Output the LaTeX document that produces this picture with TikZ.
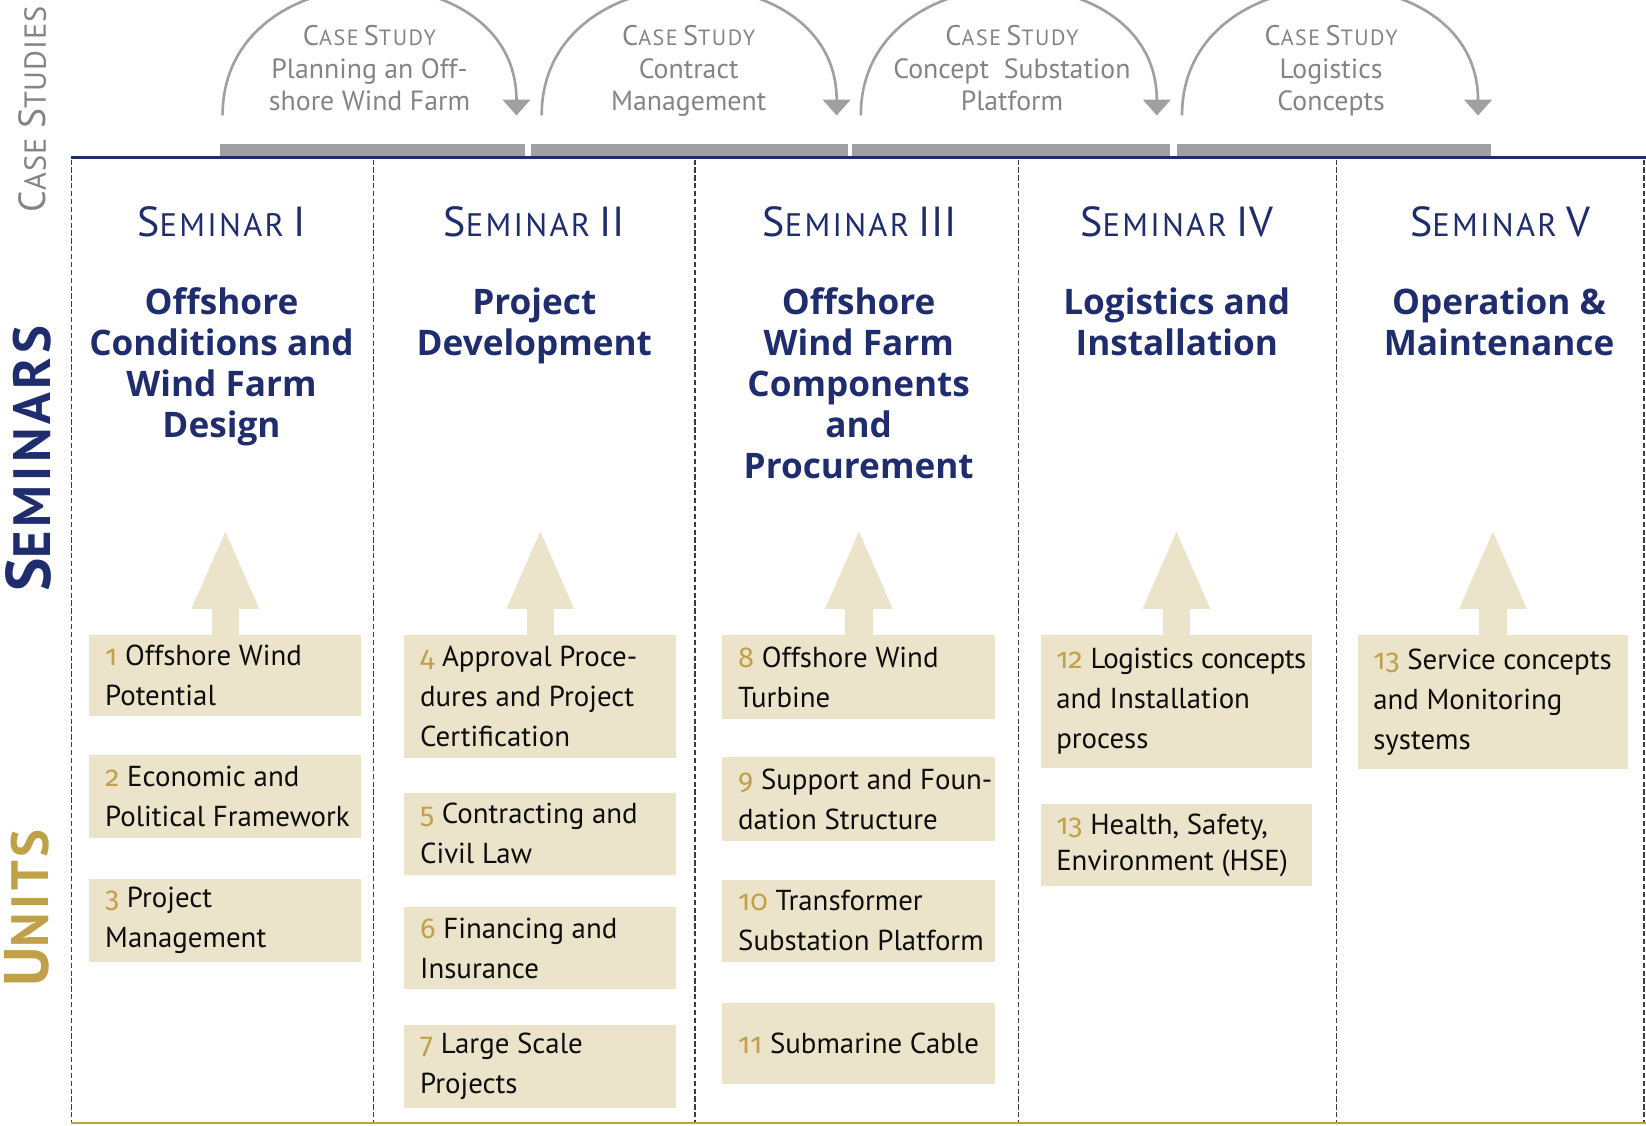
\documentclass[tikz,border=0pt]{standalone}
\usepackage{fontspec}
\setmainfont{PT Sans}
\newfontfamily\titlefont{Open Sans}
\newfontfamily\numfont[Numbers=OldStyle]{Fira Sans}
\newfontfamily\scfont[LetterSpace=7]{PT Sans}
\newfontfamily\sclfont[LetterSpace=3]{PT Sans}
\usetikzlibrary{arrows.meta}
\definecolor{navy}{RGB}{31,45,110}
\definecolor{gold}{RGB}{192,160,72}
\definecolor{beige}{RGB}{236,228,202}
\definecolor{cgray}{RGB}{160,160,160}
\definecolor{tgray}{RGB}{132,132,132}
\definecolor{dgray}{RGB}{60,60,60}
\newcommand\fsc[4]{{\fontsize{#1}{#1}\selectfont #3}{\fontsize{#2}{#2}\selectfont #4}}
\newcommand\unum[1]{{\numfont\color{gold}#1}}
\newcommand\semnum[1]{\hspace{9pt}{\fontsize{40}{40}\selectfont\addfontfeature{LetterSpace=2}#1}}
\tikzset{
  vline/.style={draw=dgray, line width=1.2pt, dash pattern=on 5pt off 2.5pt},
  ubox/.style={fill=beige, draw=none, inner sep=0pt},
  utext/.style={anchor=west, align=left, inner sep=0pt, text=black!95,
    font=\fontsize{27.5}{38}\selectfont},
  semlab/.style={anchor=base, inner sep=0pt, text=navy, font=\scfont},
  title/.style={anchor=north, align=center, inner sep=0pt, text=navy,
    font=\titlefont\bfseries\fontsize{33.5}{39}\selectfont},
  cstext/.style={anchor=north, align=center, inner sep=0pt, text=tgray,
    font=\fontsize{26.5}{31}\selectfont},
  csarc/.style={draw=cgray, line width=2.5pt, -{Triangle[length=15pt,width=26pt]}},
  uparrow/.style={draw=beige, line width=26pt, -{Triangle[length=77pt,width=58pt]}},
}
\newcommand\mkunit[7]{%
  \node[ubox, minimum width=#4, minimum height=#5, anchor=north west] (#1) at (#2,#3) {};
  \node[utext] (#1t) at ([xshift=15pt]#1.west) {\unum{#6} #7};}
\begin{document}
\begin{tikzpicture}[x=1pt,y=-1pt]
\useasboundingbox (0,0) rectangle (1568,1072);
\clip (0,0) rectangle (1568,1072);

% left labels
\node[rotate=90, inner sep=0pt, text=tgray, font=\sclfont] (lcs) at (31,104) {\fsc{36}{29}{C}{ASE}\hspace{9pt}\fsc{36}{29}{S}{TUDIES}};
\node[rotate=90, inner sep=0pt, text=navy, font=\scfont\bfseries] (lsem) at (27,437) {\fsc{60}{50}{S}{EMINARS}};
\node[rotate=90, inner sep=0pt, text=gold, font=\scfont\bfseries] (lun) at (26,865) {\fsc{60}{50}{U}{NITS}};

% gray bars
\fill[cgray] (210,137) rectangle (500,150);
\fill[cgray] (506,137) rectangle (808,150);
\fill[cgray] (812,137) rectangle (1115,150);
\fill[cgray] (1121,137) rectangle (1420,150);

% grid
\draw[navy, line width=3pt] (68,150) -- (1568,150);
\draw[gold, line width=1.5pt] (68,1070) -- (1568,1070);
\foreach \x in {68,356,662,970,1273,1566} {\draw[vline] (\x,152) -- (\x,1069);}

% case study arcs
\coordinate (a1s) at (212,110); \coordinate (a1e) at (492,110);
\coordinate (a2s) at (516,110); \coordinate (a2e) at (797,110);
\coordinate (a3s) at (820,110); \coordinate (a3e) at (1102,110);
\coordinate (a4s) at (1126,110); \coordinate (a4e) at (1408,110);
\draw[csarc] (a1s) .. controls (212,-50) and (492,-50) .. (a1e);
\draw[csarc] (a2s) .. controls (516,-50) and (797,-50) .. (a2e);
\draw[csarc] (a3s) .. controls (820,-50) and (1102,-50) .. (a3e);
\draw[csarc] (a4s) .. controls (1126,-50) and (1408,-50) .. (a4e);

\node[cstext] (cs1) at (352,24) {{\scfont\fsc{27}{21}{C}{ASE}\hspace{5pt}\fsc{27}{21}{S}{TUDY}}\\Planning an Off-\\shore Wind Farm};
\node[cstext] (cs2) at (656,24) {{\scfont\fsc{27}{21}{C}{ASE}\hspace{5pt}\fsc{27}{21}{S}{TUDY}}\\Contract\\Management};
\node[cstext] (cs3) at (964,24) {{\scfont\fsc{27}{21}{C}{ASE}\hspace{5pt}\fsc{27}{21}{S}{TUDY}}\\Concept\ \ Substation\\Platform};
\node[cstext] (cs4) at (1268,24) {{\scfont\fsc{27}{21}{C}{ASE}\hspace{5pt}\fsc{27}{21}{S}{TUDY}}\\Logistics\\Concepts};

% seminar labels
\node[semlab] (s1) at (211,225) {\fsc{40}{31}{S}{EMINAR}\semnum{I}};
\node[semlab] (s2) at (509,225) {\fsc{40}{31}{S}{EMINAR}\semnum{II}};
\node[semlab] (s3) at (819,225) {\fsc{40}{31}{S}{EMINAR}\semnum{III}};
\node[semlab] (s4) at (1121,225) {\fsc{40}{31}{S}{EMINAR}\semnum{IV}};
\node[semlab] (s5) at (1429,225) {\fsc{40}{31}{S}{EMINAR}\semnum{V}};

% titles
\node[title] (ti1) at (211,274) {Offshore\\Conditions and\\Wind Farm\\Design};
\node[title] (ti2) at (509,274) {Project\\Development};
\node[title] (ti3) at (818,274) {Offshore\\Wind Farm\\Components\\and\\Procurement};
\node[title] (ti4) at (1121,274) {Logistics and\\Installation};
\node[title] (ti5) at (1428,274) {Operation \&\\Maintenance};

% units
\mkunit{u1}{85}{605}{259}{77}{1}{Offshore Wind\\Potential}
\mkunit{u2}{85}{719}{259}{79}{2}{Economic and\\Political Framework}
\mkunit{u3}{85}{837}{259}{79}{3}{Project\\Management}
\mkunit{u4}{385}{605}{259}{117}{4}{Approval Proce-\\dures and Project\\Certification}
\mkunit{u5}{385}{755}{259}{78}{5}{Contracting and\\Civil Law}
\mkunit{u6}{385}{864}{259}{78}{6}{Financing and\\Insurance}
\mkunit{u7}{385}{976}{259}{79}{7}{Large Scale\\Projects}
\mkunit{u8}{688}{605}{260}{80}{8}{Offshore Wind\\Turbine}
\mkunit{u9}{688}{721}{260}{80}{9}{Support and Foun-\\dation Structure}
\mkunit{u10}{688}{838}{260}{78}{10}{Transformer\\Substation Platform}
\mkunit{u11}{688}{955}{260}{77}{11}{Submarine Cable}
\mkunit{u12}{991}{605}{259}{126}{12}{{\addfontfeature{LetterSpace=-1.5}Logistics concepts}\\and Installation\\process}
\mkunit{u13}{991}{766}{259}{78}{13}{Health, Safety,\\[-4pt]Environment (HSE)}
\mkunit{u14}{1293}{605}{258}{127}{13}{Service concepts\\and Monitoring\\systems}

% up arrows
\draw[uparrow] (u1.north) -- ++(0,-102);
\draw[uparrow] (u4.north) -- ++(0,-102);
\draw[uparrow] (u8.north) -- ++(0,-102);
\draw[uparrow] (u12.north) -- ++(0,-102);
\draw[uparrow] (u14.north) -- ++(0,-102);
\end{tikzpicture}
\end{document}
